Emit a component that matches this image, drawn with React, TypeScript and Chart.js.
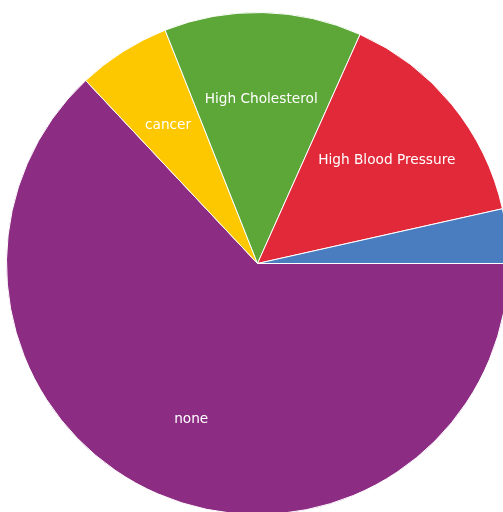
import React, { useEffect, useRef } from "react";
import { Chart, registerables } from "chart.js";

Chart.register(...registerables);

// Slices listed clockwise starting at 3 o'clock
const categories = ["none", "cancer", "High Cholesterol", "High Blood Pressure", "other"];
const values = [63.0, 6.0, 12.7, 14.8, 3.5];
const colors = ["#8c2c83", "#fec800", "#5ca737", "#e22939", "#4a7dc0"];
const showLabel = [true, true, true, true, false];

const labelPlugin = {
  id: "sliceLabels",
  afterDatasetsDraw(chart: any) {
    const ctx = chart.ctx;
    const meta = chart.getDatasetMeta(0);
    ctx.save();
    ctx.fillStyle = "#ffffff";
    ctx.font = '13.7px "DejaVu Sans", sans-serif';
    ctx.textAlign = "center";
    ctx.textBaseline = "middle";
    meta.data.forEach((arc: any, i: number) => {
      if (!showLabel[i]) return;
      const { x, y, startAngle, endAngle, outerRadius } = arc.getProps(
        ["x", "y", "startAngle", "endAngle", "outerRadius"],
        true
      );
      const mid = (startAngle + endAngle) / 2;
      const r = outerRadius * 0.665;
      ctx.fillText(categories[i], x + Math.cos(mid) * r, y + Math.sin(mid) * r + 2.5);
    });
    ctx.restore();
  },
};

export default function App() {
  const ref = useRef<HTMLCanvasElement | null>(null);
  useEffect(() => {
    if (!ref.current) return;
    const chart = new Chart(ref.current, {
      type: "pie",
      data: {
        labels: categories,
        datasets: [
          {
            data: values,
            backgroundColor: colors,
            borderColor: "#ffffff",
            borderWidth: 1,
          },
        ],
      },
      options: {
        responsive: false,
        animation: false,
        rotation: 90,
        layout: { padding: 0 },
        plugins: {
          legend: { display: false },
          tooltip: { enabled: false },
        },
      },
      plugins: [labelPlugin],
    });
    return () => chart.destroy();
  }, []);
  return (
    <div
      style={{
        position: "fixed",
        left: 0,
        top: 0,
        width: 503,
        height: 512,
        overflow: "hidden",
        background: "#ffffff",
      }}
    >
      <canvas
        ref={ref}
        width={503}
        height={503}
        style={{ position: "absolute", left: 6, top: 12, width: 503, height: 503 }}
      />
    </div>
  );
}
